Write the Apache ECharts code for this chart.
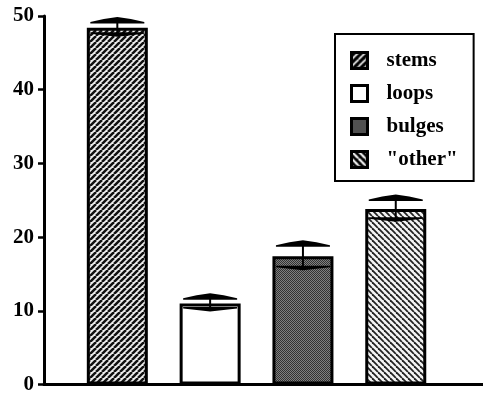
<!DOCTYPE html>
<html>
<head>
<meta charset="utf-8">
<script src="https://cdn.jsdelivr.net/npm/echarts@6/dist/echarts.min.js"></script>
<style>
  html, body { margin: 0; padding: 0; background: #fff; }
  #chart { width: 483px; height: 395px; }
</style>
</head>
<body>
<div id="chart"></div>
<script>
// Mean counts per structural element, with error margins
const categories = ['stems', 'loops', 'bulges', '"other"'];
const positions = [1, 2, 3, 4];
const means = [48.4, 11.0, 17.4, 23.8];
const errors = [0.8, 0.7, 1.5, 1.3];
const yTicks = [0, 10, 20, 30, 40, 50];

// --- fill patterns -------------------------------------------------------
function tile(size, draw) {
  const c = document.createElement('canvas');
  c.width = size; c.height = size;
  draw(c.getContext('2d'), size);
  return c;
}
function stripes(size, bg, fg, lw, dir) {
  return tile(size, (ctx, s) => {
    ctx.fillStyle = bg; ctx.fillRect(0, 0, s, s);
    ctx.strokeStyle = fg; ctx.lineWidth = lw;
    for (let k = -1; k <= 1; k++) {
      ctx.beginPath();
      if (dir > 0) { ctx.moveTo(k * s, s); ctx.lineTo(k * s + s, 0); }
      else { ctx.moveTo(k * s, 0); ctx.lineTo(k * s + s, s); }
      ctx.stroke();
    }
  });
}
function checker(cell, a, b) {
  return tile(cell * 2, (ctx, s) => {
    ctx.fillStyle = a; ctx.fillRect(0, 0, s, s);
    ctx.fillStyle = b;
    ctx.fillRect(0, 0, cell, cell);
    ctx.fillRect(cell, cell, cell, cell);
  });
}
const pat = c => ({ image: c, repeat: 'repeat' });

const barFills = [
  pat(stripes(6, '#eeeeee', '#111', 2.5, 1)),
  '#ffffff',
  pat(checker(1, '#808080', '#333333')),
  pat(stripes(6, '#f4f4f4', '#222', 1.8, -1))
];
const legendFills = [
  pat(stripes(7, '#000', '#fff', 1.6, 1)),
  '#ffffff',
  pat(checker(1, '#777', '#2a2a2a')),
  pat(stripes(7, '#000', '#fff', 2.2, -1))
];

const serif = 'Liberation Serif, Times New Roman, serif';

// --- series --------------------------------------------------------------
const series = categories.map((name, i) => ({
  name: name,
  type: 'bar',
  barWidth: 61,
  barGap: '-100%',
  silent: true,
  z: 2,
  data: [[positions[i], means[i]]],
  itemStyle: { color: barFills[i], borderColor: '#000', borderWidth: 3 }
}));

// Error bars with hat-shaped caps
series.push({
  type: 'custom',
  name: 'error',
  silent: true,
  z: 5,
  data: positions.map((p, i) => [p, means[i] - errors[i], means[i] + errors[i]]),
  renderItem(params, api) {
    const x = api.value(0);
    const lo = api.coord([x, api.value(1)]);
    const hi = api.coord([x, api.value(2)]);
    const cx = hi[0], w = 27, yh = hi[1], yl = lo[1];
    return {
      type: 'group',
      children: [
        { type: 'line', shape: { x1: cx, y1: yl, x2: cx, y2: yh },
          style: { stroke: '#000', lineWidth: 2 } },
        { type: 'polygon',
          shape: { points: [[cx - w, yh + 1.5], [cx - w, yh], [cx - w / 2, yh - 3], [cx, yh - 5],
                            [cx + w / 2, yh - 3], [cx + w, yh], [cx + w, yh + 1.5]] },
          style: { fill: '#000' } },
        { type: 'polygon',
          shape: { points: [[cx - w, yl - 1.5], [cx - w, yl], [cx - w / 2, yl + 1.5], [cx, yl + 3],
                            [cx + w / 2, yl + 1.5], [cx + w, yl], [cx + w, yl - 1.5]] },
          style: { fill: '#000' } }
      ]
    };
  }
});

const chart = echarts.init(document.getElementById('chart'), null, { renderer: 'canvas' });
chart.setOption({
  animation: false,
  backgroundColor: '#fff',
  grid: { left: 44, right: 0, top: 16, bottom: 7.5 },
  legend: {
    orient: 'vertical',
    left: 335,
    top: 34,
    padding: [16, 16, 11, 15],
    itemGap: 12,
    itemWidth: 16,
    itemHeight: 16,
    borderColor: '#000',
    borderWidth: 2,
    selectedMode: false,
    icon: 'rect',
    textStyle: { fontFamily: serif, fontWeight: 'bold', fontSize: 21, color: '#000', padding: [0, 0, 0, 14] },
    data: categories.map((name, i) => ({
      name: name,
      itemStyle: { color: legendFills[i], borderColor: '#000', borderWidth: 3 }
    }))
  },
  xAxis: {
    type: 'value',
    min: 0.21,
    max: 4.94,
    axisLine: { show: true, lineStyle: { color: '#000', width: 3 } },
    axisTick: { show: false },
    axisLabel: { show: false },
    splitLine: { show: false }
  },
  yAxis: {
    type: 'value',
    min: yTicks[0],
    max: yTicks[yTicks.length - 1],
    interval: yTicks[1] - yTicks[0],
    axisLine: { show: true, lineStyle: { color: '#000', width: 3 } },
    axisTick: { show: true, length: 6, lineStyle: { color: '#000', width: 2.5 } },
    axisLabel: { fontFamily: serif, fontWeight: 'bold', fontSize: 21, color: '#000', margin: 10 },
    splitLine: { show: false }
  },
  series: series
});
</script>
</body>
</html>
